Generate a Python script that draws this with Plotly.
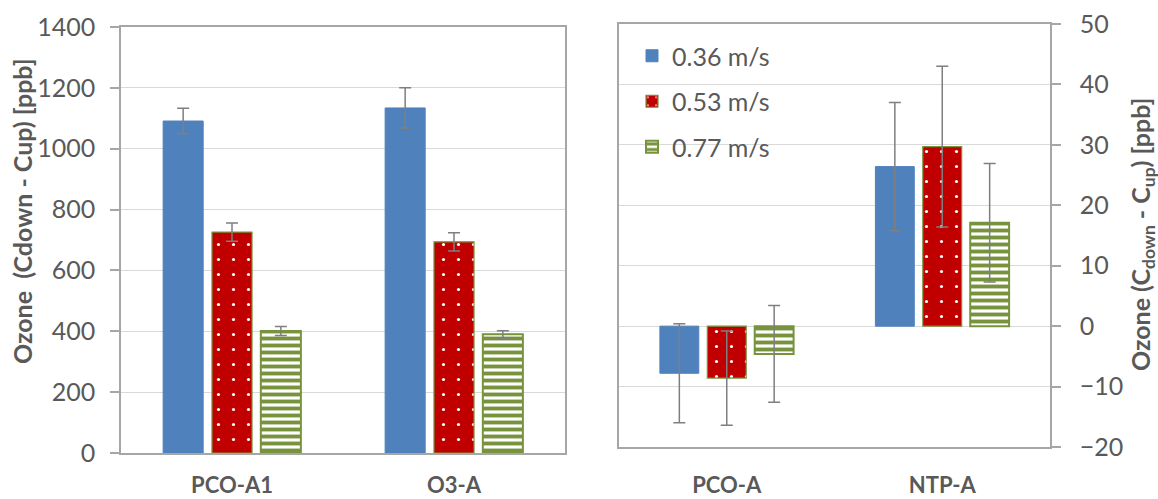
import plotly.graph_objects as go

# ---- data ----
series_names = ["0.36 m/s", "0.53 m/s", "0.77 m/s"]

cats_left = ["PCO-A1", "O3-A"]
left_vals = {
    "0.36 m/s": [1091, 1134],
    "0.53 m/s": [726, 694],
    "0.77 m/s": [401, 390],
}
left_errs = {
    "0.36 m/s": [42, 66],
    "0.53 m/s": [30, 30],
    "0.77 m/s": [15, 12],
}

cats_right = ["PCO-A", "NTP-A"]
right_vals = {
    "0.36 m/s": [-7.8, 26.4],
    "0.53 m/s": [-8.6, 29.7],
    "0.77 m/s": [-4.6, 17.1],
}
right_errs = {
    "0.36 m/s": [8.2, 10.6],
    "0.53 m/s": [7.8, 13.3],
    "0.77 m/s": [8.0, 9.8],
}

left_ticks = [0, 200, 400, 600, 800, 1000, 1200, 1400]
right_ticks = [-20, -10, 0, 10, 20, 30, 40, 50]

# ---- styles ----
FONT = "Lato"
GRAY = "#595959"
GRID = "#D9D9D9"
FRAME = "#A6A6A6"
ERR = "#7F7F7F"
BLUE = "#4F81BD"
RED = "#C00000"
GREEN = "#77933C"

styles = {
    "0.36 m/s": dict(color=BLUE, line=dict(color=BLUE, width=1)),
    "0.53 m/s": dict(color=RED,
                     pattern=dict(shape=".", fgcolor="white", bgcolor=RED,
                                  size=15, solidity=0.035),
                     line=dict(color=GREEN, width=1.2)),
    "0.77 m/s": dict(color="white",
                     pattern=dict(shape="-", fgcolor=GREEN, bgcolor="white",
                                  size=7, solidity=0.55),
                     line=dict(color=GREEN, width=2)),
}

fig = go.Figure()

for name in series_names:
    st = styles[name]
    mk = dict(color=st["color"], line=st["line"])
    if "pattern" in st:
        mk["pattern"] = st["pattern"]
    fig.add_trace(go.Bar(
        x=cats_left, y=left_vals[name], name=name, marker=mk,
        error_y=dict(type="data", array=left_errs[name], color=ERR,
                     thickness=1.5, width=6),
        xaxis="x", yaxis="y", showlegend=False, legendgroup=name,
    ))

for name in series_names:
    st = styles[name]
    mk = dict(color=st["color"], line=st["line"])
    if "pattern" in st:
        mk["pattern"] = st["pattern"]
    fig.add_trace(go.Bar(
        x=cats_right, y=right_vals[name], name=name, marker=mk,
        error_y=dict(type="data", array=right_errs[name], color=ERR,
                     thickness=1.5, width=6),
        xaxis="x2", yaxis="y2", showlegend=True, legendgroup=name,
    ))

W, H = 1158, 499
lx0, lx1 = 121 / W, 565 / W
ly0, ly1 = (H - 453) / H, (H - 27) / H
rx0, rx1 = 619 / W, 1050 / W
ry0, ry1 = (H - 447) / H, (H - 24) / H

tickfont = dict(family=FONT, size=25, color=GRAY)
catfont = dict(family=FONT, size=22, color=GRAY, weight="bold")

fig.update_layout(
    template="none",
    width=W, height=H, autosize=False,
    margin=dict(l=0, r=0, t=0, b=0, pad=0),
    paper_bgcolor="white", plot_bgcolor="white",
    barmode="group", bargap=0.34, bargroupgap=0.18,
    font=dict(family=FONT, color=GRAY),
    xaxis=dict(domain=[lx0, lx1], anchor="y", showline=True, mirror=True,
               linecolor=FRAME, linewidth=1.5, ticks="", tickfont=catfont,
               ticklabelstandoff=12, showgrid=False, automargin=False),
    yaxis=dict(domain=[ly0, ly1], anchor="x", range=[0, 1400],
               tickvals=left_ticks, showline=True, mirror=True,
               linecolor=FRAME, linewidth=1.5, gridcolor=GRID, gridwidth=1.2,
               ticks="outside", ticklen=9, tickcolor=FRAME, tickwidth=1.5,
               tickfont=tickfont, ticklabelstandoff=10, zeroline=False,
               automargin=False),
    yaxis3=dict(domain=[ly0, ly1], anchor="x", overlaying="y",
                range=[0, 1400], tickvals=left_ticks, showticklabels=False,
                ticks="inside", ticklen=10, tickcolor=FRAME, tickwidth=1.5,
                showgrid=False, showline=False, zeroline=False,
                automargin=False),
    xaxis2=dict(domain=[rx0, rx1], anchor="y2", showline=True, mirror=True,
                linecolor=FRAME, linewidth=1.5, ticks="", tickfont=catfont,
                ticklabelstandoff=18, showgrid=False, automargin=False),
    yaxis2=dict(domain=[ry0, ry1], anchor="x2", side="right",
                range=[-20, 50], tickvals=right_ticks, showline=True,
                mirror=True, linecolor=FRAME, linewidth=1.5, gridcolor=GRID,
                gridwidth=1.2, ticks="outside", ticklen=9, tickcolor=FRAME,
                tickwidth=1.5, tickfont=tickfont, ticklabelstandoff=14,
                zeroline=False, automargin=False),
    yaxis4=dict(domain=[ry0, ry1], anchor="x2", overlaying="y2", side="right",
                range=[-20, 50], tickvals=right_ticks, showticklabels=False,
                ticks="inside", ticklen=10, tickcolor=FRAME, tickwidth=1.5,
                showgrid=False, showline=False, zeroline=False,
                automargin=False),
    legend=dict(x=632 / W, y=(H - 33) / H, xanchor="left", yanchor="top",
                bgcolor="rgba(0,0,0,0)", font=dict(family=FONT, size=25, color=GRAY),
                tracegroupgap=10, itemclick=False),
    annotations=[
        dict(text="Ozone&nbsp; (Cdown - Cup) [ppb]", x=22 / W, y=(H - 211) / H,
             xref="paper", yref="paper", textangle=-90, showarrow=False,
             xanchor="center", yanchor="middle",
             font=dict(family=FONT, size=25, color=GRAY, weight="bold")),
        dict(text="Ozone (C<sub>down</sub> - C<sub>up</sub>) [ppb]",
             x=1142 / W, y=(H - 235) / H,
             xref="paper", yref="paper", textangle=-90, showarrow=False,
             xanchor="center", yanchor="middle",
             font=dict(family=FONT, size=25, color=GRAY, weight="bold")),
    ],
)

fig.write_html("out.html")
